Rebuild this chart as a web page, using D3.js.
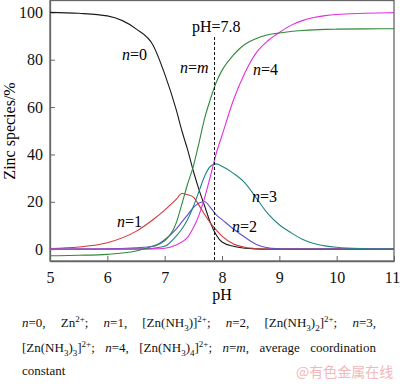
<!DOCTYPE html>
<html>
<head>
<meta charset="utf-8">
<script src="https://cdn.jsdelivr.net/npm/d3@7"></script>
<style>
  body { margin: 0; background: #fff; }
  #wrap { position: relative; width: 400px; height: 384px; overflow: hidden; }
  svg { position: absolute; left: 0; top: 0; }
  .cap { position: absolute; left: 22px; width: 354px; font-family: "Liberation Serif", "Times New Roman", serif; font-size: 13px; color: #111; white-space: nowrap; }
  .cap.just { text-align: justify; text-align-last: justify; white-space: normal; }
  .cap sup, .cap sub { font-size: 9px; line-height: 0; }
  #wm { position: absolute; left: 296px; top: 361px; font-family: "Noto Sans CJK SC", sans-serif; font-size: 14px; color: #f2b8b8; }
</style>
</head>
<body>
<div id="wrap"></div>
<script>
// pH grid shared by all species
const pH = [5, 5.5, 6, 6.5, 6.8, 7.0, 7.2, 7.3, 7.4, 7.5, 7.6, 7.7, 7.8, 7.9, 8.0, 8.2, 8.4, 8.6, 8.8, 9.0, 9.2, 9.4, 9.6, 9.8, 10, 10.5, 11];

const n0 = [100, 99.6, 98.5, 93, 86, 74, 59, 50, 42, 33, 25, 18, 11, 6, 3, 1.2, 0.4, 0.1, 0, 0, 0, 0, 0, 0, 0, 0, 0];
const n1 = [0.3, 0.9, 2.7, 7.5, 12.5, 16.5, 21, 23.5, 23, 22, 18.5, 14.5, 11, 8, 5.5, 2.2, 0.8, 0.2, 0, 0, 0, 0, 0, 0, 0, 0, 0];
const n2 = [0, 0, 0.2, 0.6, 1.2, 4, 8.5, 11.5, 14.5, 17.5, 19.5, 20, 17.5, 14.5, 12.5, 8.5, 5, 2, 0.6, 0.2, 0, 0, 0, 0, 0, 0, 0];
const n3 = [0, 0, 0, 0.1, 0.4, 1.2, 5.5, 8.5, 12.5, 18, 24.5, 31, 35, 36, 35, 32, 28, 21.5, 15, 10.3, 7, 4.2, 2.4, 1.4, 0.8, 0.2, 0];
const n4 = [0, 0, 0, 0, 0.1, 0.4, 1.8, 3, 5, 9, 14.5, 22, 31, 40.5, 48, 63, 74.5, 83, 88, 91.5, 94.5, 96.5, 97.8, 98.6, 99.1, 99.6, 99.9];
const nm = [-2.8, -2.6, -2.2, -0.8, 1.3, 3.5, 11, 19, 27.5, 35, 45, 55.5, 63.5, 70.5, 75.5, 82, 86.5, 89, 90.5, 91.3, 91.9, 92.3, 92.6, 92.8, 92.9, 93, 93.1];

const xTicks = [5, 6, 7, 8, 9, 10, 11];
const yTicks = [0, 20, 40, 60, 80, 100];
const markPH = 7.87;

const series = [
  { name: 'n0', values: n0, color: '#1a1a1a' },
  { name: 'n1', values: n1, color: '#d03a3a' },
  { name: 'n2', values: n2, color: '#5a50d0' },
  { name: 'n3', values: n3, color: '#1f8585' },
  { name: 'n4', values: n4, color: '#e030e0' },
  { name: 'nm', values: nm, color: '#2f8a3a' }
];

// curve labels, placed by hand next to their curves
const curveLabels = [
  { rest: '0', x: 122, y: 60 },
  { rest: '1', x: 117, y: 227 },
  { rest: '2', x: 232, y: 232 },
  { rest: '3', x: 252, y: 202 },
  { rest: '4', x: 253, y: 75 },
  { rest: 'm', x: 180, y: 73, italic: true }
];

const wrap = d3.select('#wrap');
const svg = wrap.append('svg').attr('width', 400).attr('height', 384);

const x = d3.scaleLinear().domain([5, 11]).range([50, 394]);
const y = d3.scaleLinear().domain([-5, 105]).range([261, 0.5]);

const serif = '"Liberation Serif", "Times New Roman", serif';

// frame
svg.append('rect')
  .attr('x', 50).attr('y', 0.5)
  .attr('width', 344).attr('height', 260.5)
  .attr('fill', 'none').attr('stroke', '#666').attr('stroke-width', 1.3);

// axes
const xAxis = svg.append('g')
  .attr('transform', 'translate(0,261)')
  .call(d3.axisBottom(x).tickValues(xTicks).tickFormat(d3.format('d'))
    .tickSizeInner(-5).tickSizeOuter(0).tickPadding(11));
const yAxis = svg.append('g')
  .attr('transform', 'translate(50,0)')
  .call(d3.axisLeft(y).tickValues(yTicks).tickFormat(d3.format('d'))
    .tickSizeInner(-5).tickSizeOuter(0).tickPadding(7));

[xAxis, yAxis].forEach(g => {
  g.attr('font-family', serif).attr('font-size', 16);
  g.select('.domain').attr('stroke', '#666').attr('stroke-width', 1.3);
  g.selectAll('.tick line').attr('stroke', '#666');
  g.selectAll('.tick text').attr('fill', '#111');
});
// last label sits right at the page edge
xAxis.selectAll('.tick text').filter(d => d === 11).attr('dx', -2);

// curves
const line = d3.line()
  .x((d, i) => x(pH[i]))
  .y(d => y(d))
  .curve(d3.curveMonotoneX);

svg.append('g')
  .selectAll('path')
  .data(series)
  .join('path')
  .attr('d', d => line(d.values))
  .attr('fill', 'none')
  .attr('stroke', d => d.color)
  .attr('stroke-width', 1.1);

// dashed marker at the crossing pH
svg.append('line')
  .attr('x1', x(markPH)).attr('x2', x(markPH))
  .attr('y1', 37).attr('y2', 261)
  .attr('stroke', '#111')
  .attr('stroke-width', 1)
  .attr('stroke-dasharray', '3,2');

svg.append('text')
  .attr('x', 192).attr('y', 32)
  .attr('font-family', serif).attr('font-size', 16)
  .text('pH=7.8');

// curve labels
curveLabels.forEach(l => {
  const t = svg.append('text')
    .attr('x', l.x).attr('y', l.y)
    .attr('font-family', serif).attr('font-size', 16);
  t.append('tspan').attr('font-style', 'italic').text('n');
  t.append('tspan').text('=');
  t.append('tspan').attr('font-style', l.italic ? 'italic' : 'normal').text(l.rest);
});

// axis titles
svg.append('text')
  .attr('x', 222).attr('y', 300)
  .attr('text-anchor', 'middle')
  .attr('font-family', serif).attr('font-size', 16)
  .text('pH');

svg.append('text')
  .attr('transform', 'translate(15,131) rotate(-90)')
  .attr('text-anchor', 'middle')
  .attr('font-family', serif).attr('font-size', 16)
  .text('Zinc species/%');

// caption
const capLines = [
  '<i>n</i>=0, Zn<sup>2+</sup>; <i>n</i>=1, [Zn(NH<sub>3</sub>)]<sup>2+</sup>; <i>n</i>=2, [Zn(NH<sub>3</sub>)<sub>2</sub>]<sup>2+</sup>; <i>n</i>=3,',
  '[Zn(NH<sub>3</sub>)<sub>3</sub>]<sup>2+</sup>; <i>n</i>=4, [Zn(NH<sub>3</sub>)<sub>4</sub>]<sup>2+</sup>; <i>n</i>=<i>m</i>, average coordination',
  'constant'
];
const capTop = [315, 340, 363];
capLines.forEach((h, i) => {
  wrap.append('div')
    .attr('class', i < 2 ? 'cap just' : 'cap')
    .style('top', capTop[i] + 'px')
    .html(h);
});

wrap.append('div').attr('id', 'wm').text('@有色金属在线');
</script>
</body>
</html>
